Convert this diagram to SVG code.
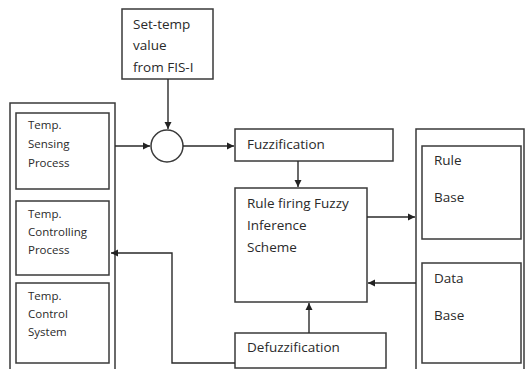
<svg xmlns="http://www.w3.org/2000/svg" width="525" height="369" viewBox="0 0 525 369">
<defs>
<style>
.b{fill:#fff;stroke:#3a3a3a;stroke-width:1.5}
.c{fill:none;stroke:#2a2a2a;stroke-width:1.4}
.t{font-family:"Open Sans","Liberation Sans",sans-serif;font-size:13.5px;fill:#2a2a2a}
.s{font-family:"Open Sans","Liberation Sans",sans-serif;font-size:11.5px;fill:#2a2a2a}
</style>
<marker id="a" markerWidth="8" markerHeight="8" refX="7" refY="4" orient="auto" markerUnits="userSpaceOnUse">
<path d="M0,0.5 L7,4 L0,7.5 Z" fill="#222"/>
</marker>
</defs>
<rect width="525" height="369" fill="#fff"/>
<g id="setTemp"><rect class="b" x="122" y="9" width="91" height="70"/>
<text class="t" x="133" y="29">Set-temp</text><text class="t" x="133" y="50">value</text><text class="t" x="133" y="72">from FIS-I</text></g>
<g id="plant"><path class="b" d="M10,371 V103 H115 V371"/>
<g id="sensing"><rect class="b" x="16" y="113" width="93" height="76"/>
<text class="s" x="28" y="129">Temp.</text><text class="s" x="28" y="148">Sensing</text><text class="s" x="28" y="167">Process</text></g>
<g id="controlling"><rect class="b" x="16" y="201" width="93" height="74"/>
<text class="s" x="28" y="218">Temp.</text><text class="s" x="28" y="236">Controlling</text><text class="s" x="28" y="254">Process</text></g>
<g id="system"><rect class="b" x="16" y="283" width="93" height="80"/>
<text class="s" x="28" y="300">Temp.</text><text class="s" x="28" y="318">Control</text><text class="s" x="28" y="336">System</text></g>
</g>
<g id="sum"><circle class="b" cx="167" cy="146" r="16"/></g>
<g id="fuzzification"><rect class="b" x="235" y="129" width="158" height="32"/>
<text class="t" x="247" y="149">Fuzzification</text></g>
<g id="inference"><rect class="b" x="235" y="188" width="132" height="114"/>
<text class="t" x="247" y="208">Rule firing Fuzzy</text><text class="t" x="247" y="230">Inference</text><text class="t" x="247" y="252">Scheme</text></g>
<g id="defuzzification"><rect class="b" x="235" y="333" width="151" height="35"/>
<text class="t" x="247" y="352">Defuzzification</text></g>
<g id="knowledge"><path class="b" d="M416,371 V129 H524 V371"/>
<g id="ruleBase"><rect class="b" x="422" y="146" width="99" height="93"/>
<text class="t" x="434" y="165">Rule</text><text class="t" x="434" y="202">Base</text></g>
<g id="dataBase"><rect class="b" x="422" y="263" width="99" height="100"/>
<text class="t" x="434" y="283">Data</text><text class="t" x="434" y="320">Base</text></g>
</g>
<g id="connectors">
<path class="c" d="M168,79 V129" marker-end="url(#a)"/>
<path class="c" d="M115,146 H150" marker-end="url(#a)"/>
<path class="c" d="M183,146 H234" marker-end="url(#a)"/>
<path class="c" d="M298,161 V187" marker-end="url(#a)"/>
<path class="c" d="M367,217 H415" marker-end="url(#a)"/>
<path class="c" d="M416,283 H368" marker-end="url(#a)"/>
<path class="c" d="M309,333 V303" marker-end="url(#a)"/>
<path class="c" d="M235,363 H172 V253 H111" marker-end="url(#a)"/>
</g>
</svg>
